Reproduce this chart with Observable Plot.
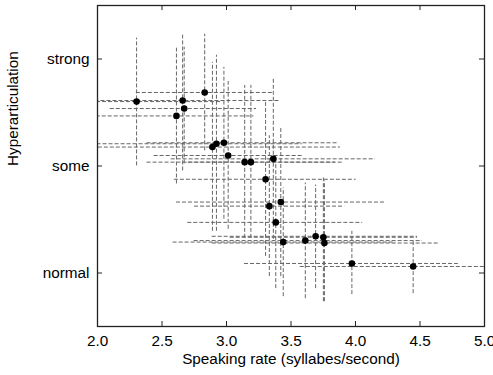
<!DOCTYPE html>
<html>
<head>
<meta charset="utf-8">
<script src="https://cdn.jsdelivr.net/npm/d3@7"></script>
<script src="https://cdn.jsdelivr.net/npm/@observablehq/plot@0.6"></script>
<style>
  html, body { margin: 0; padding: 0; background: white; }
</style>
</head>
<body>
<div id="chart"></div>
<script>
// Speaking rate (syllables/second): mean and error-bar extent
const rate   = [2.303, 2.660, 2.672, 2.612, 2.831, 2.891, 2.922, 2.980, 3.013, 3.141, 3.189, 3.363, 3.303, 3.332, 3.421, 3.382, 3.440, 3.611, 3.691, 3.751, 3.759, 3.972, 4.447];
const rateLo = [1.900, 1.980, 2.099, 1.990, 2.301, 1.960, 1.950, 2.384, 2.439, 2.384, 2.703, 2.571, 2.596, 2.752, 2.612, 2.700, 2.586, 2.749, 2.889, 3.029, 2.889, 3.140, 3.572];
const rateHi = [2.970, 3.417, 3.233, 3.213, 3.363, 3.883, 3.588, 3.867, 3.596, 3.844, 3.898, 4.155, 4.005, 3.916, 4.232, 4.056, 4.310, 4.519, 4.481, 4.481, 4.644, 4.797, 5.300];
// Hyperarticulation (1 = normal, 2 = some, 3 = strong): mean and error-bar extent
const hyper   = [2.602, 2.612, 2.537, 2.468, 2.687, 2.177, 2.208, 2.217, 2.098, 2.036, 2.036, 2.067, 1.876, 1.625, 1.663, 1.473, 1.289, 1.303, 1.343, 1.334, 1.280, 1.089, 1.061];
const hyperLo = [2.001, 1.954, 2.020, 1.832, 2.142, 1.390, 1.390, 1.503, 1.409, 1.324, 1.324, 1.315, 1.155, 0.967, 0.967, 0.854, 0.779, 0.760, 0.854, 0.732, 0.732, 0.798, 0.807];
const hyperHi = [3.195, 3.223, 3.110, 3.101, 3.232, 2.969, 3.035, 2.922, 2.790, 2.753, 2.753, 2.819, 2.593, 2.283, 2.358, 2.095, 1.794, 1.841, 1.822, 1.888, 1.860, 1.390, 1.296];

const xTicks = [2.0, 2.5, 3.0, 3.5, 4.0, 4.5, 5.0];
const yTicks = [1, 2, 3];
const yTickLabels = ["normal", "some", "strong"];
const xLabel = "Speaking rate (syllabes/second)";
const yLabel = "Hyperarticulation";

const rows = rate.map((r, i) => ({
  rate: r, rateLo: rateLo[i], rateHi: rateHi[i],
  hyper: hyper[i], hyperLo: hyperLo[i], hyperHi: hyperHi[i]
}));

const W = 493, H = 375;
const mL = 97, mR = 9, mT = 5, mB = 49;
const innerW = W - mL - mR, innerH = H - mT - mB;
const tickLen = 5;
const fs = 15.3;
const barStyle = {stroke: "#666", strokeWidth: 1, strokeDasharray: "4,2", clip: true};

const chart = Plot.plot({
  width: W, height: H,
  marginLeft: mL, marginRight: mR, marginTop: mT, marginBottom: mB,
  style: {fontFamily: "'Liberation Sans', Arial, sans-serif", fontSize: fs + "px", background: "white", color: "black"},
  x: {domain: [2, 5]},
  y: {domain: [0.5, 3.5]},
  marks: [
    Plot.ruleY(rows, {y: "hyper", x1: "rateLo", x2: "rateHi", ...barStyle}),
    Plot.ruleX(rows, {x: "rate", y1: "hyperLo", y2: "hyperHi", ...barStyle}),
    Plot.dot(rows, {x: "rate", y: "hyper", r: 3.3, fill: "black", stroke: "none"}),
    Plot.frame({stroke: "#222", strokeWidth: 1.3}),
    Plot.tickX(xTicks, {x: d => d, insetTop: innerH - tickLen, stroke: "#222"}),
    Plot.tickX(xTicks, {x: d => d, insetBottom: innerH - tickLen, stroke: "#222"}),
    Plot.tickY(yTicks, {y: d => d, insetRight: innerW - tickLen, stroke: "#222"}),
    Plot.tickY(yTicks, {y: d => d, insetLeft: innerW - tickLen, stroke: "#222"}),
    Plot.axisX(xTicks, {tickSize: 0, tickPadding: 9, tickFormat: d3.format(".1f"), label: null, fontSize: fs}),
    Plot.axisY(yTicks, {tickSize: 0, tickPadding: 8, tickFormat: d => yTickLabels[yTicks.indexOf(d)], label: null, fontSize: fs}),
    Plot.text([xLabel], {text: d => d, frameAnchor: "bottom", dy: 37, fontSize: fs, fill: "black"}),
    Plot.text([yLabel], {text: d => d, frameAnchor: "left", dx: -84.5, rotate: -90, fontSize: fs, fill: "black"})
  ]
});
document.getElementById("chart").appendChild(chart);
</script>
</body>
</html>
